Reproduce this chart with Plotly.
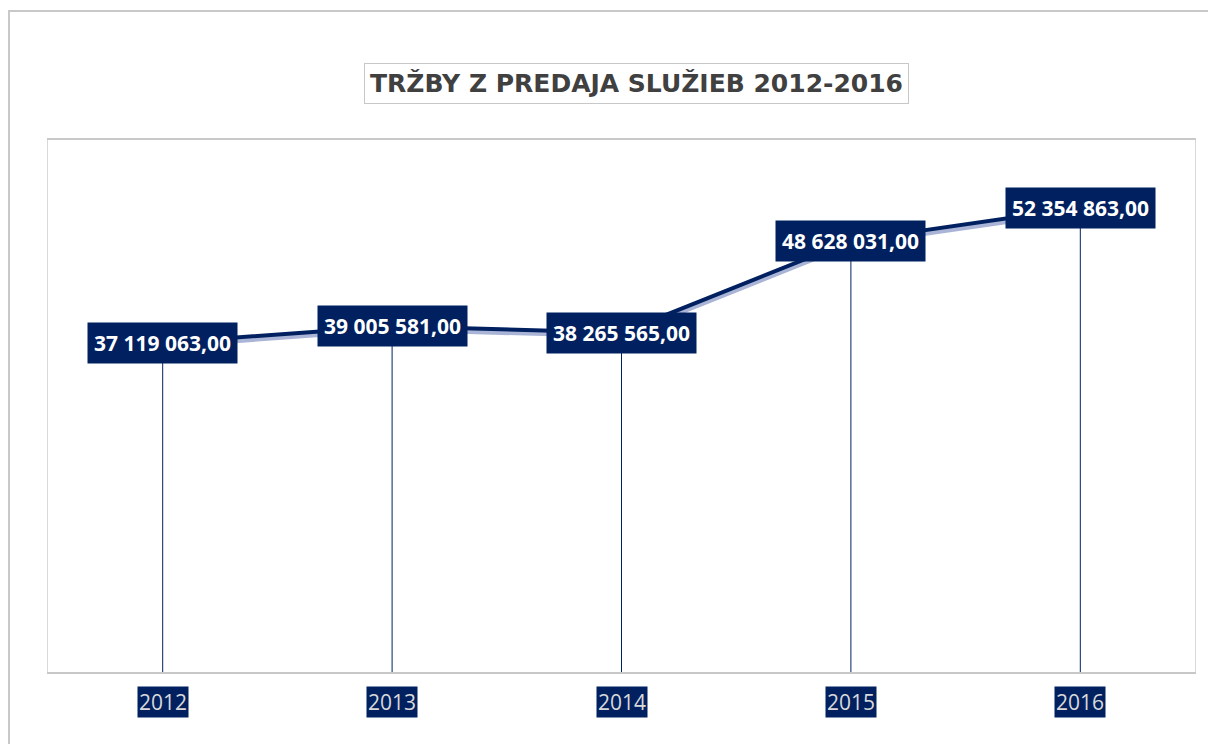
import plotly.graph_objects as go

years = ["2012", "2013", "2014", "2015", "2016"]
revenue = [37119063.00, 39005581.00, 38265565.00, 48628031.00, 52354863.00]
labels = ["37 119 063,00", "39 005 581,00", "38 265 565,00", "48 628 031,00", "52 354 863,00"]
title_text = "TRŽBY Z PREDAJA SLUŽIEB 2012-2016"

NAVY = "#002060"
W, H = 1216, 744
OFF = 8  # page body margin offset
# desired screen positions of plot area: x 48..1195, y 140..672
L, T = 48 - OFF, 140 - OFF
R = W - (1195 - OFF)
B = H - (672 - OFF)
pw, ph = W - L - R, H - T - B

def px_to_paper_x(sx):
    return (sx - OFF - L) / pw

def px_to_paper_y(sy):
    return (H - B - (sy - OFF)) / ph

idx = list(range(len(years)))

fig = go.Figure()

# drop lines
dx, dy = [], []
for i, v in zip(idx, revenue):
    dx += [i, i, None]
    dy += [0, v, None]
fig.add_trace(go.Scatter(x=dx, y=dy, mode="lines", line=dict(color=NAVY, width=1),
                         hoverinfo="skip", showlegend=False))

# shadow of the line
fig.add_trace(go.Scatter(x=idx, y=[v - 0.35e6 for v in revenue], mode="lines",
                         line=dict(color="#a9b4d6", width=5), hoverinfo="skip", showlegend=False))
# main line
fig.add_trace(go.Scatter(x=idx, y=revenue, mode="lines",
                         line=dict(color=NAVY, width=4), showlegend=False))

# data labels
for i, v, lab in zip(idx, revenue, labels):
    fig.add_annotation(x=i, y=v, text=lab, showarrow=False, xref="x", yref="y",
                       font=dict(family="Open Sans", size=21, color="white", weight="bold"),
                       bgcolor=NAVY, borderpad=6, xanchor="center", yanchor="middle")

# category labels with navy background
for i, yr in zip(idx, years):
    fig.add_annotation(x=i, y=px_to_paper_y(702), xref="x", yref="paper", text=yr, showarrow=False,
                       font=dict(family="Open Sans", size=21, color="#d9d9d9"),
                       bgcolor=NAVY, borderpad=1, xanchor="center", yanchor="middle")

# title
fig.add_annotation(x=px_to_paper_x(636), y=px_to_paper_y(84),
                   xref="paper", yref="paper", text=title_text, showarrow=False,
                   font=dict(family="DejaVu Sans", size=25, color="#404040", weight="bold"),
                   bordercolor="#c8c8c8", borderwidth=1, borderpad=5, bgcolor="white",
                   xanchor="center", yanchor="middle")

# outer chart frame
fig.add_shape(type="rect", xref="paper", yref="paper",
              x0=px_to_paper_x(9), x1=px_to_paper_x(W + 20),
              y0=px_to_paper_y(H + 20), y1=px_to_paper_y(11),
              line=dict(color="#c8c8c8", width=2), layer="below")

fig.update_layout(
    width=W, height=H,
    margin=dict(l=L, r=R, t=T, b=B),
    paper_bgcolor="white", plot_bgcolor="white",
    xaxis=dict(showgrid=False, showticklabels=False, ticks="",
               showline=True, linecolor="#c8c8c8", linewidth=2, mirror=True,
               range=[-0.5, 4.5], zeroline=False, fixedrange=True),
    yaxis=dict(range=[0, 60e6], showgrid=False, showticklabels=False, ticks="",
               showline=True, linecolor="#d9d9d9", linewidth=1, mirror=True, zeroline=False),
    showlegend=False,
)

fig.write_html("out.html")
